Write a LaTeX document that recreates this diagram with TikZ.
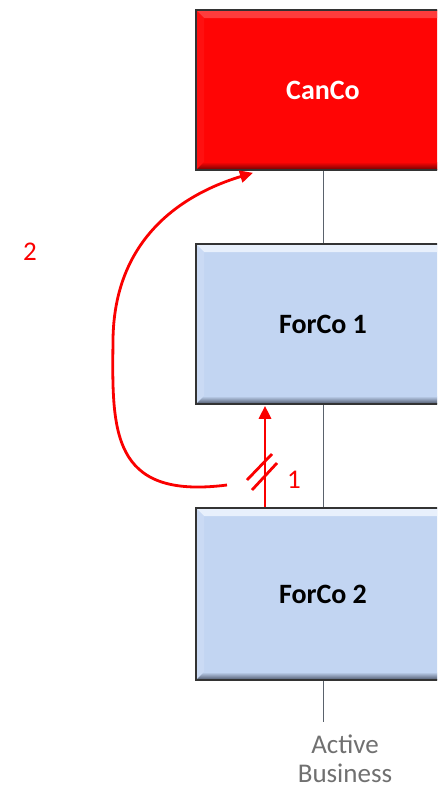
\documentclass[tikz,border=0pt]{standalone}
\usepackage{fontspec}
\setmainfont{Carlito}
\usepackage{tikz}
\usetikzlibrary{arrows.meta}

\definecolor{cancored}{RGB}{255,5,5}
\definecolor{cancolight}{RGB}{255,60,60}
\definecolor{cancodark}{RGB}{110,0,0}
\definecolor{forcoblue}{RGB}{194,213,242}
\definecolor{forcolight}{RGB}{232,240,252}
\definecolor{forcodark}{RGB}{75,85,105}
\definecolor{spinegray}{RGB}{90,98,108}
\definecolor{notegray}{RGB}{112,112,112}
\definecolor{movered}{RGB}{250,0,0}

\begin{document}
\begin{tikzpicture}
		[x=1pt,y=-1pt,
		company/.style n args={3}{rectangle,draw=black!80,line width=1.6pt,
inner sep=0pt,minimum width=254pt,minimum height=160pt,fill=#1,
font=\bfseries\fontsize{28}{32}\selectfont,
			path picture={
				\path (path picture bounding box.north west) coordinate (nw)
					(path picture bounding box.north east) coordinate (ne)
					(path picture bounding box.south west) coordinate (sw)
					(path picture bounding box.south east) coordinate (se);
				% lit faces
				\fill[#2] (nw) -- (ne) -- ([shift={(-8pt,-8pt)}]ne)
					-- ([shift={(8pt,-8pt)}]nw) -- cycle;
				\fill[#2!20!#1] (nw) -- ([shift={(8pt,-8pt)}]nw)
					-- ([shift={(8pt,8pt)}]sw) -- (sw) -- cycle;
				% shaded faces
				\shade[top color=#1,bottom color=#3] (sw) -- (se)
					-- ([shift={(-8pt,8pt)}]se) -- ([shift={(8pt,8pt)}]sw) -- cycle;
				\fill[#3!30!#1] (ne) -- (se) -- ([shift={(-8pt,8pt)}]se)
					-- ([shift={(-8pt,-8pt)}]ne) -- cycle;
			}},
		spine/.style={-,spinegray,line width=0.8pt},
		move/.style={-{Triangle[length=13pt,width=12pt]},movered,line width=2.8pt},
		cut/.style={-,movered,line width=2.8pt},
		tag/.style={text=movered,font=\fontsize{27}{30}\selectfont},
		note/.style={text=notegray,align=center,font=\fontsize{27}{29}\selectfont}]
		\useasboundingbox (0,0) rectangle (437,788);
		\clip (0,0) rectangle (437,788);

		% entities
		\node at (323,90) (canco) [company={cancored}{cancolight}{cancodark},text=white] {CanCo};
		\node at (323,324) (forco1) [company={forcoblue}{forcolight}{forcodark}] {ForCo 1};
		\node at (323,594) (forco2) [company={forcoblue}{forcolight}{forcodark},minimum height=172pt] {ForCo 2};
		\node at (345,759) (active) [note] {Active\\Business};
		\coordinate (stem) at (323,722);

		\draw[spine] (canco) -- (forco1);
		\draw[spine] (forco1) -- (forco2);
		\draw[spine] (forco2) -- (stem);

		% step 1
		\draw[move] ([xshift=-58pt]forco2.north) -- ([xshift=-58pt,yshift=-1pt]forco1.south);
		\coordinate (hash) at (262,472);
		\draw[cut] ([shift={(-15,8)}]hash) -- ++(25,-26);
		\draw[cut] ([shift={(-10,18)}]hash) -- ++(25,-27);
		\node at (294,480) (one) [tag] {1};

		% step 2
		\coordinate (loopstart) at (227,485);
		\draw[move] (loopstart) .. controls (110,500) and (112,430) .. (113,340)
			.. controls (114,240) and (180,195) .. ([xshift=-70pt,yshift=-2pt]canco.south);
		\node at (30,252) (two) [tag] {2};
	\end{tikzpicture}
\end{document}
